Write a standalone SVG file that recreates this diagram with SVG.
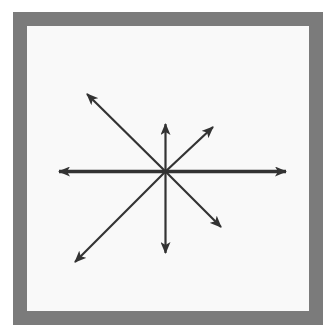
<svg xmlns="http://www.w3.org/2000/svg" width="326" height="327" viewBox="0 0 326 327">
  <style>
    .frame { fill: #f9f9f9; stroke: #7b7b7b; stroke-width: 14; }
    .ray { stroke: #333333; stroke-width: 2.2; fill: none; marker-end: url(#ah); }
    .ray.thick { stroke-width: 3.5; marker-start: url(#ahs); }
  </style>
  <defs>
    <marker id="ah" viewBox="0 0 12 10" refX="11" refY="5" markerWidth="12" markerHeight="10" markerUnits="userSpaceOnUse" orient="auto">
      <path d="M0,0 L12,5 L0,10 L3,5 Z" fill="#333333"/>
    </marker>
    <marker id="ahs" viewBox="0 0 12 10" refX="11" refY="5" markerWidth="12" markerHeight="10" markerUnits="userSpaceOnUse" orient="auto-start-reverse">
      <path d="M0,0 L12,5 L0,10 L3,5 Z" fill="#333333"/>
    </marker>
  </defs>
  <rect width="326" height="327" fill="#ffffff"/>
  <g id="frame">
    <rect class="frame" x="20" y="19" width="296" height="299"/>
  </g>
  <g id="connectors">
    <line class="ray thick" x1="59" y1="171.5" x2="286" y2="171.5"/>
    <line class="ray" x1="165.5" y1="171.5" x2="165.5" y2="124"/>
    <line class="ray" x1="165.5" y1="171.5" x2="165.5" y2="253"/>
    <line class="ray" x1="165.5" y1="171.5" x2="87" y2="94"/>
    <line class="ray" x1="165.5" y1="171.5" x2="213" y2="127"/>
    <line class="ray" x1="165.5" y1="171.5" x2="221" y2="227"/>
    <line class="ray" x1="165.5" y1="171.5" x2="75" y2="262"/>
  </g>
</svg>
